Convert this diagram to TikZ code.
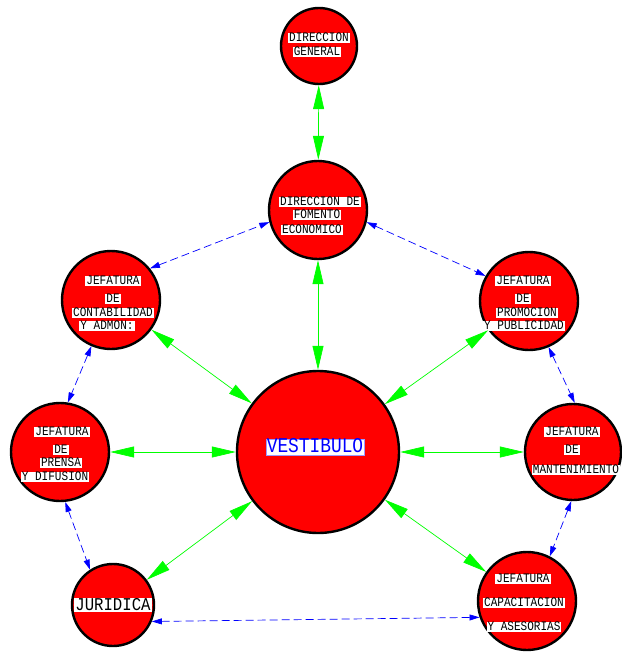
\documentclass[tikz,border=0pt]{standalone}
\usepackage{fontspec}
\newfontfamily\cadfont[FakeStretch=0.85]{Liberation Mono}
\newfontfamily\cadfontb[FakeStretch=0.87]{Liberation Mono}
\usetikzlibrary{arrows.meta}
\definecolor{cadgreen}{RGB}{0,255,0}
\definecolor{cadblue}{RGB}{0,0,255}
\definecolor{cadred}{RGB}{255,0,0}
\begin{document}
\begin{tikzpicture}[x=1pt,y=-1pt,
  room/.style={circle,draw=black,line width=2.4pt,fill=cadred,inner sep=0pt,minimum size=#1},
  lbl/.style={fill=white,inner xsep=1pt,inner ysep=1.2pt,font=\cadfont\fontsize{13}{13}\selectfont,text height=7.6pt,text depth=0.4pt},
  gr/.style={draw=cadgreen,line width=0.7pt,{Triangle[length=24pt,width=11pt,fill=cadgreen]}-{Triangle[length=24pt,width=11pt,fill=cadgreen]}},
  bl/.style={draw=cadblue,line width=0.7pt,dash pattern=on 8pt off 4pt,{Triangle[length=10pt,width=6pt,fill=cadblue]}-{Triangle[length=10pt,width=6pt,fill=cadblue]}}
]
\useasboundingbox[fill=white] (0,0) rectangle (621,653);

% rooms
\node[room=76pt] (dg) at (319,46) {};
\node[room=98pt] (dfe) at (318,210) {};
\node[room=98pt] (cont) at (111,300) {};
\node[room=98pt] (prom) at (529,301) {};
\node[room=162pt] (vest) at (318,452) {};
\node[room=98pt] (pren) at (60,452) {};
\node[room=96pt] (mant) at (573,452) {};
\node[room=82pt] (jur) at (113,605) {};
\node[room=98pt] (cap) at (527,601) {};

% labels
\node[lbl] (dg1) at (319,38) {DIRECCION};
\node[lbl] (dg2) at (317,52) {GENERAL};

\node[lbl] (dfe1) at (320,202) {DIRECCION DE};
\node[lbl] (dfe2) at (317,215) {FOMENTO};
\node[lbl] (dfe3) at (312,230) {ECONOMICO};

\node[lbl] (co1) at (113,281) {JEFATURA};
\node[lbl] (co2) at (113,299) {DE};
\node[lbl] (co3) at (113,313) {CONTABILIDAD};
\node[lbl] (co4) at (107,326) {Y ADMON:};

\node[lbl] (pr1) at (523,281) {JEFATURA};
\node[lbl] (pr2) at (523,299) {DE};
\node[lbl] (pr3) at (527,313) {PROMOCION};
\node[lbl] (pr4) at (524,326) {Y PUBLICIDAD};

\node[lbl] (pe1) at (62,432) {JEFATURA};
\node[lbl] (pe2) at (61,450) {DE};
\node[lbl] (pe3) at (61,463) {PRENSA};
\node[lbl] (pe4) at (55,477) {Y DIFUSION};

\node[lbl] (ma1) at (572,432) {JEFATURA};
\node[lbl] (ma2) at (572,450) {DE};
\node[lbl] (ma3) at (576,470) {MANTENIMIENTO};

\node[lbl,font=\cadfontb\fontsize{18}{18}\selectfont,text height=10.5pt,text depth=0.5pt,minimum width=78pt] (ju1) at (113,605) {JURIDICA};

\node[lbl] (ca1) at (523,579) {JEFATURA};
\node[lbl] (ca2) at (524,603) {CAPACITACION};
\node[lbl] (ca3) at (524,627) {Y ASESORIAS};

\node[lbl,draw=cadblue!40,line width=0.4pt,text=cadblue,font=\cadfont\fontsize{21}{21}\selectfont,text height=12pt,text depth=0.5pt,inner ysep=1.5pt] (ve1) at (315,447) {VESTIBULO};

% green connectors
\draw[gr] (dg) -- (dfe);
\draw[gr] (dfe) -- (vest);
\draw[gr] (cont) -- (vest);
\draw[gr] (prom) -- (vest);
\draw[gr] (pren) -- (vest);
\draw[gr] (mant) -- (vest);
\draw[gr] (jur) -- (vest);
\draw[gr] (cap) -- (vest);

% blue dashed connectors
\draw[bl] (cont.39) -- (dfe.194);
\draw[bl] (dfe.346) -- (prom.150);
\draw[bl] (cont.247) -- (pren.81);
\draw[bl] (prom.293) -- (mant.88);
\draw[bl] (pren.276) -- (jur.123);
\draw[bl] (mant.268) -- (cap.63);
\draw[bl] (jur.-23) -- (cap.199);
\end{tikzpicture}
\end{document}
